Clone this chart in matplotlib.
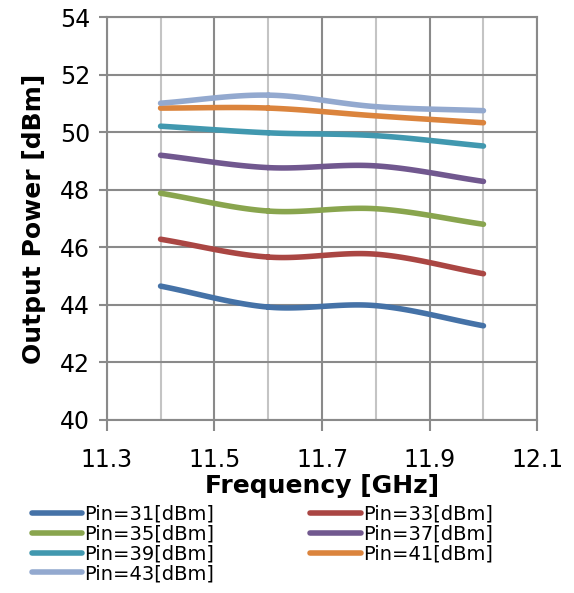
import numpy as np
import matplotlib
matplotlib.use("Agg")
import matplotlib.pyplot as plt
from matplotlib.ticker import FixedLocator, MultipleLocator

# data
freq = [11.4, 11.6, 11.8, 12.0]
pin_31 = [44.65, 43.92, 43.97, 43.27]
pin_33 = [46.28, 45.66, 45.76, 45.08]
pin_35 = [47.88, 47.26, 47.34, 46.80]
pin_37 = [49.20, 48.77, 48.83, 48.29]
pin_39 = [50.21, 49.98, 49.88, 49.52]
pin_41 = [50.84, 50.84, 50.57, 50.33]
pin_43 = [51.01, 51.29, 50.89, 50.75]
labels = ["Pin=31[dBm]", "Pin=33[dBm]", "Pin=35[dBm]", "Pin=37[dBm]",
          "Pin=39[dBm]", "Pin=41[dBm]", "Pin=43[dBm]"]
colors = ["#4572A7", "#AA4643", "#89A54E", "#71588F",
          "#4198AF", "#DB843D", "#93A9CF"]
x_major = [11.3, 11.5, 11.7, 11.9, 12.1]
x_minor = [11.4, 11.6, 11.8, 12.0]


def smooth(x, y, n=40):
    # Catmull-Rom like Excel's smoothed line
    x = np.asarray(x, float)
    y = np.asarray(y, float)
    px = np.concatenate([[2 * x[0] - x[1]], x, [2 * x[-1] - x[-2]]])
    py = np.concatenate([[2 * y[0] - y[1]], y, [2 * y[-1] - y[-2]]])
    xs, ys = [], []
    t = np.linspace(0, 1, n)
    for i in range(1, len(px) - 2):
        for p, out in ((px, xs), (py, ys)):
            p0, p1, p2, p3 = p[i - 1], p[i], p[i + 1], p[i + 2]
            out.extend(0.5 * (2 * p1 + (-p0 + p2) * t
                              + (2 * p0 - 5 * p1 + 4 * p2 - p3) * t ** 2
                              + (-p0 + 3 * p1 - 3 * p2 + p3) * t ** 3))
    return xs, ys


fig = plt.figure(figsize=(5.74, 5.93), dpi=100)
ax = fig.add_axes([0.186, 0.292, 0.750, 0.679])

series = [pin_31, pin_33, pin_35, pin_37, pin_39, pin_41, pin_43]
handles = []
for vals, lab, col in zip(series, labels, colors):
    sx, sy = smooth(freq, vals)
    h, = ax.plot(sx, sy, color=col, lw=4, label=lab, solid_capstyle="round")
    handles.append(h)

ax.set_xlim(11.3, 12.1)
ax.set_ylim(40, 54)
ax.xaxis.set_major_locator(FixedLocator(x_major))
ax.xaxis.set_minor_locator(FixedLocator(x_minor))
ax.yaxis.set_major_locator(MultipleLocator(2))
ax.grid(which="major", color="#8a8a8a", lw=1.5)
ax.grid(which="minor", axis="x", color="#c4c4c4", lw=1.5)
ax.set_axisbelow(True)
for s in ax.spines.values():
    s.set_color("#8a8a8a")
    s.set_linewidth(1.5)
ax.tick_params(which="major", axis="x", direction="out", length=8,
               width=1.5, color="#8a8a8a", labelsize=17, pad=12)
ax.tick_params(which="minor", length=0)
ax.tick_params(axis="y", direction="out", length=6, width=1.5,
               color="#8a8a8a", labelsize=17, pad=6)
ax.set_xticklabels([f"{v:.1f}" for v in x_major])

ax.set_xlabel("Frequency [GHz]", fontsize=18, fontweight="bold", labelpad=2)
ax.set_ylabel("Output Power [dBm]", fontsize=18, fontweight="bold", labelpad=10)

# row-major order like the Excel legend
order = [0, 2, 4, 6, 1, 3, 5]
fig.legend([handles[i] for i in order], [labels[i] for i in order],
           loc="lower left", bbox_to_anchor=(0.038, 0.0), ncol=2,
           frameon=False, fontsize=14, handlelength=2.6, handletextpad=0.1,
           columnspacing=4.95, labelspacing=0.05, borderaxespad=0.1)

fig.savefig("out.png", dpi=100)
